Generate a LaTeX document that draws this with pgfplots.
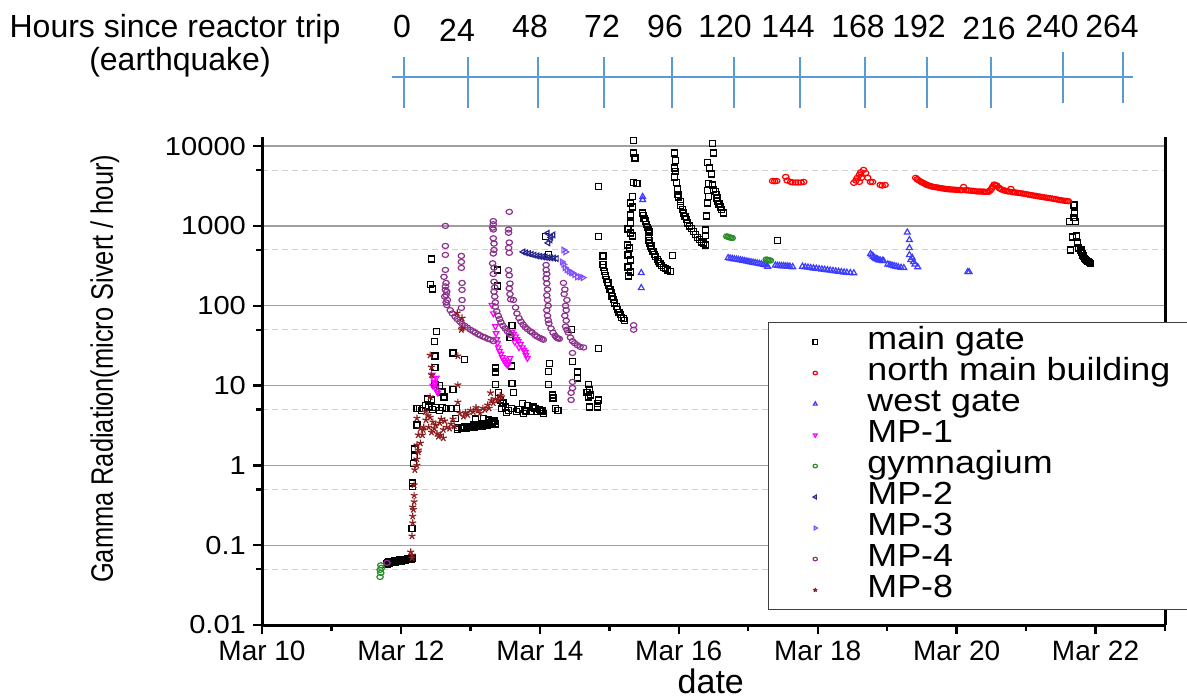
\documentclass[border=0pt]{standalone}
\usepackage{fontspec}
\setmainfont{Liberation Sans}
\newfontfamily\wide[FakeStretch=1.12]{Liberation Sans}
\newfontfamily\narrow[FakeStretch=0.82]{Liberation Sans}
\usepackage{pgfplots}
\pgfplotsset{compat=1.18}
\definecolor{hline}{RGB}{91,155,213}
\definecolor{cnorth}{RGB}{255,0,0}
\definecolor{cwest}{RGB}{60,60,255}
\definecolor{cmpone}{RGB}{255,0,255}
\definecolor{cgym}{RGB}{40,140,40}
\definecolor{cmptwo}{RGB}{40,40,140}
\definecolor{cmpthree}{RGB}{130,80,255}
\definecolor{cmpfour}{RGB}{140,50,140}
\definecolor{cmpeight}{RGB}{140,30,30}
\begin{document}
\begin{tikzpicture}[x=0.5pt,y=0.5pt]
\useasboundingbox (0,0) rectangle (1187,700);
% hours since reactor trip scale
\draw[hline, line width=0.6pt] (392,623) -- (1133,623);
\foreach \x in {404,468,538,604,672,734,800,865,927,991}
  \draw[hline, line width=0.6pt] (\x,643) -- (\x,592);
\foreach \x in {1063,1123}
  \draw[hline, line width=0.6pt] (\x,648) -- (\x,597);
\begin{scope}[every node/.style={font=\fontsize{16}{16}\selectfont, anchor=base, inner sep=0pt}]
\node at (175,662) {Hours since reactor trip};
\node at (180,629) {(earthquake)};
\node at (402,662) {0};
\node at (457,658) {24};
\node at (530,662) {48};
\node at (602,662) {72};
\node at (665,662) {96};
\node at (725,662) {120};
\node at (788,662) {144};
\node at (858,662) {168};
\node at (919,662) {192};
\node at (989,660) {216};
\node at (1052,662) {240};
\node at (1112,662) {264};
\end{scope}

\begin{axis}[
  at={(131pt,37.5pt)}, anchor=south west,
  scale only axis, width=451.5pt, height=244pt,
  ymode=log, xmin=10, xmax=23, ymin=0.01, ymax=13000,
  axis x line*=bottom, axis y line*=box,
  axis line style={line width=1.5pt, black},
  xtick={10,12,...,22},
  xticklabels={Mar 10,Mar 12,Mar 14,Mar 16,Mar 18,Mar 20,Mar 22},
  minor xtick={11,13,...,23},
  ytick={0.01,0.1,1,10,100,1000,10000},
  yticklabels={0.01,0.1,1,10,100,1000,10000},
  minor ytick={0.05,0.5,5,50,500,5000},
  ytick pos=left,
  tick align=outside,
  major tick length=4.5pt, minor tick length=3pt,
  every tick/.style={black, line width=1.2pt},
  ymajorgrids, yminorgrids,
  major grid style={gray!75, line width=0.6pt},
  minor grid style={gray!35, line width=0.5pt, dash pattern=on 3pt off 2pt},
  /pgf/number format/assume math mode=true,
  xticklabel style={font=\fontsize{14}{14}\selectfont},
  yticklabel style={font=\wide\fontsize{13}{13}\selectfont},
  xlabel={date}, ylabel={Gamma Radiation(micro Sivert / hour)},
  every axis x label/.style={at={(0.497,-0.141)}, anchor=base, inner sep=0pt, font=\fontsize{17}{17}\selectfont},
  every axis y label/.style={at={(-0.174,0.525)}, rotate=90, anchor=center, font=\narrow\fontsize{15.5}{15.5}\selectfont},
  legend style={at={(0.560,0.621)}, anchor=north west, draw=black!75, line width=0.6pt,
    inner xsep=22.4pt, inner ysep=2pt, font=\wide\fontsize{16}{16}\selectfont,
    row sep=0pt, nodes={inner sep=0pt, text height=11.5pt, text depth=4pt},
    /tikz/every odd column/.append style={column sep=25pt}},
  legend cell align=left,
  legend image code/.code={\draw[#1, mark size=1.1pt] plot coordinates {(0pt,0pt)};},
  clip=false,
]
% main gate
\addplot[only marks, mark=square, black, mark size=1.5pt, line width=0.6pt] coordinates {
(11.80,0.058) (11.81,0.060) (11.82,0.062) (11.84,0.059) (11.85,0.061) (11.86,0.063) (11.88,0.060) (11.89,0.062)
(11.91,0.064) (11.92,0.061) (11.94,0.063) (11.95,0.062) (11.97,0.064) (11.98,0.066) (12.00,0.063) (12.01,0.065)
(12.03,0.064) (12.05,0.066) (12.07,0.065) (12.09,0.067) (12.11,0.066) (12.13,0.068) (12.15,0.067) (12.16,0.069)
(12.16,0.16) (12.17,0.54) (12.17,0.60) (12.18,1.05) (12.20,1.3) (12.20,1.6) (12.23,3.2) (12.23,5.2) (12.27,5.2)
(12.30,4.9) (12.38,6.8) (12.44,6.6) (12.49,10.2) (12.56,9.9) (12.59,8.3) (12.62,7.2) (12.56,4.9) (12.60,5.3)
(12.66,5.2) (12.72,5.2) (12.80,5.2) (12.75,9.0) (12.78,3.9) (12.82,2.8) (12.81,3.0) (12.35,5.6) (12.40,5.4)
(12.45,5.0) (12.50,5.3)
(12.44,386) (12.43,183) (12.45,162) (12.51,48) (12.48,36) (12.49,23.5) (12.49,17) (12.75,25.6) (12.91,21)
(12.88,2.9) (12.90,3.0) (12.92,3.1) (12.94,2.9) (12.96,3.0) (12.98,3.1) (13.00,3.0) (13.02,3.1) (13.04,3.2)
(13.06,3.0) (13.08,3.1) (13.10,3.2) (13.12,3.1) (13.14,3.2) (13.16,3.3) (13.18,3.1) (13.20,3.2) (13.22,3.3)
(13.24,3.2) (13.26,3.4) (13.28,3.3) (13.30,3.5) (13.32,3.4) (13.34,3.6) (13.36,3.3) (13.07,3.8) (13.19,3.9)
(13.26,3.7) (13.31,3.5)
(13.39,281) (13.39,177) (13.36,16.6) (13.36,14.8) (13.59,17.6) (13.57,40) (13.60,56)
(13.36,10.2) (13.60,10.5) (13.62,8.1) (13.40,8.1) (13.43,6.6) (13.47,6.05) (13.50,5.4) (13.59,5.2) (13.66,4.7)
(13.75,5.9) (13.76,4.5) (13.82,5.6) (13.86,4.7) (13.90,5.4) (13.96,4.7) (14.01,4.7) (14.05,4.5) (13.55,4.9)
(13.70,5.0) (13.80,4.8) (13.93,5.1) (14.00,5.0) (14.03,4.8) (13.45,5.2) (13.52,4.6) (14.12,10.2) (14.18,7.6)
(14.19,7.0) (14.22,5.2) (14.26,4.9)
(14.08,741) (14.12,435) (14.14,19) (14.12,15) (14.45,50) (14.47,20) (14.54,14.8) (14.54,12.4)
(14.68,8.1) (14.70,10.2) (14.71,8.8) (14.73,7.6) (14.70,7.2) (14.84,6.6) (14.83,6.0) (14.72,5.4) (14.83,5.4)
(14.84,3100) (14.84,741) (14.84,29) (14.91,420)
(14.91,325) (14.92,300) (14.93,270) (14.95,240) (14.96,215) (14.98,195) (14.99,180) (15.01,160) (15.03,145)
(15.04,132) (15.06,120) (15.08,108) (15.10,98) (15.12,90) (15.14,83) (15.16,77) (15.18,72) (15.20,69) (15.22,66)
(15.35,11700) (15.35,8200) (15.37,7100) (15.35,3460) (15.40,3360) (15.33,2310) (15.30,1940) (15.33,1730)
(15.30,1370) (15.30,1090) (15.27,917) (15.30,817) (15.33,749) (15.26,578) (15.29,530) (15.27,433) (15.30,375)
(15.27,306) (15.30,265) (15.28,236)
(15.48,1450) (15.49,1350) (15.50,1250) (15.52,1150) (15.53,1050) (15.55,960) (15.56,890) (15.58,840)
(15.56,720) (15.57,660) (15.58,610) (15.60,560) (15.61,520) (15.63,480) (15.65,440) (15.67,410) (15.69,380)
(15.71,355) (15.73,335) (15.75,320) (15.78,300) (15.81,290) (15.84,281) (15.88,270) (15.91,421)
(15.94,8200) (15.95,6600) (15.94,5300) (15.95,4750) (15.94,4100) (15.97,3460) (15.98,2900) (15.99,2500)
(16.00,2300) (16.02,2000) (16.03,1800) (16.05,1600) (16.07,1450) (16.09,1300) (16.11,1190) (16.13,1090)
(16.15,1000) (16.18,920) (16.21,850) (16.24,780) (16.27,720) (16.30,670) (16.33,630) (16.36,600)
(16.38,891) (16.38,750) (16.36,612) (16.38,578)
(16.48,10700) (16.50,8200) (16.41,6160) (16.44,5330) (16.47,4480) (16.43,3360) (16.48,3260) (16.41,2750)
(16.50,2830) (16.43,2310) (16.41,1940) (16.40,1330)
(16.53,2670) (16.54,2450) (16.55,2240) (16.56,2050) (16.58,1880) (16.60,1730) (16.62,1600) (16.64,1450)
(17.42,649)
(21.69,1830) (21.70,1450) (21.69,1260) (21.63,1130) (21.71,1130) (21.73,749) (21.67,728) (21.74,612)
(21.64,500) (21.76,530) (21.79,500) (21.80,470) (21.81,450) (21.82,430) (21.83,410) (21.84,395) (21.86,380)
(21.87,365) (21.89,355) (21.91,345) (21.93,335)
};
\addlegendentry{main gate}
% north main building
\addplot[only marks, mark=o, cnorth, mark size=1.6pt, line width=0.6pt, mark options={yscale=0.8}] coordinates {
(17.35,3660) (17.38,3620) (17.41,3660) (17.54,4110) (17.56,3700) (17.61,3560) (17.64,3500) (17.68,3500)
(17.72,3500) (17.76,3500) (17.80,3560)
(18.52,3460) (18.57,4000) (18.60,4360) (18.62,4700) (18.66,5030) (18.69,4600) (18.72,4000) (18.76,3560)
(18.79,3560) (18.60,3560) (18.63,4000) (18.55,3700)
(18.90,3260) (18.93,3200) (18.97,3260)
(19.41,4000) (19.43,3850) (19.45,3750) (19.48,3600) (19.50,3520) (19.52,3450) (19.54,3380) (19.56,3300)
(19.58,3250) (19.60,3200) (19.63,3150) (19.65,3100) (19.68,3070) (19.70,3050) (19.73,3020) (19.75,3000)
(19.78,2970) (19.80,2950) (19.83,2920) (19.85,2900) (19.88,2880) (19.90,2870) (19.93,2860) (19.96,2850)
(19.99,2830) (20.02,2820) (20.05,2810) (20.08,2800) (20.10,3080) (20.13,2800) (20.16,2790) (20.18,2780)
(20.21,2760) (20.24,2750) (20.27,2720) (20.30,2700) (20.33,2700) (20.35,2700) (20.38,2690) (20.40,2680)
(20.43,2670) (20.46,2670) (20.48,2780) (20.50,2900) (20.52,3100) (20.54,3300) (20.56,3250) (20.58,3200)
(20.61,3000) (20.63,2900) (20.65,2850) (20.68,2800) (20.70,2750) (20.73,2720) (20.75,2700) (20.78,2910)
(20.80,2650) (20.83,2640) (20.85,2620) (20.88,2600) (20.90,2580) (20.93,2560) (20.96,2540) (20.99,2510)
(21.02,2480) (21.05,2450) (21.08,2430) (21.11,2400) (21.14,2380) (21.17,2350) (21.20,2330) (21.23,2300)
(21.26,2280) (21.29,2260) (21.32,2240) (21.35,2220) (21.38,2200) (21.41,2170) (21.44,2150) (21.47,2120)
(21.50,2100) (21.53,2080) (21.56,2060) (21.59,2050) (21.61,2040)
};
\addlegendentry{north main building}
% west gate
\addplot[only marks, mark=triangle, cwest, mark size=1.7pt, line width=0.6pt] coordinates {
(15.48,2310) (15.48,2120) (15.46,258) (15.46,167)
(16.71,397) (16.74,392) (16.77,388) (16.80,384) (16.83,380) (16.86,376) (16.89,372) (16.92,368) (16.95,364)
(16.98,360) (17.01,356) (17.04,352) (17.07,348) (17.10,344) (17.13,340) (17.16,336) (17.19,332) (17.22,328)
(17.25,324) (17.28,310)
(17.39,320) (17.42,318) (17.45,316) (17.48,315) (17.51,315) (17.54,313) (17.57,312) (17.60,310) (17.64,306)
(17.78,310) (17.82,305) (17.86,302) (17.90,298) (17.94,295) (17.98,292) (18.02,289) (18.06,286) (18.10,283)
(18.14,280) (18.18,277) (18.22,274) (18.26,271) (18.30,268) (18.34,265) (18.38,262) (18.42,260) (18.47,258)
(18.52,256)
(18.76,446) (18.78,430) (18.80,412) (18.82,398) (18.84,388) (18.86,380) (18.88,374) (18.90,370) (18.93,366)
(18.95,364)
(19.01,330) (19.04,325) (19.07,320) (19.10,315) (19.13,310) (19.16,305) (19.20,300) (19.24,298)
(19.29,830) (19.32,668) (19.32,530) (19.32,433) (19.34,375) (19.36,400) (19.38,354) (19.40,330) (19.44,306)
(20.16,265) (20.18,265)
};
\addlegendentry{west gate}
% MP-1
\addplot[only marks, mark=triangle, cmpone, mark size=1.6pt, line width=0.6pt, mark options={rotate=180}] coordinates {
(12.45,13.6) (12.47,12) (12.49,10.5) (12.50,9.3) (12.52,8.5) (12.48,11) (12.51,12.5) (12.46,9.9) (12.53,8.1)
(13.31,102) (13.33,80) (13.36,55) (13.37,45) (13.38,38) (13.39,34) (13.40,30) (13.42,27) (13.44,25)
(13.46,22.5) (13.48,21) (13.50,19.5) (13.52,18.5) (13.54,18) (13.57,22) (13.55,20)
(13.60,47) (13.62,44) (13.64,35) (13.65,41) (13.67,38) (13.69,36) (13.70,30) (13.72,33) (13.75,30)
(13.77,28) (13.79,26) (13.80,24) (13.82,22)
};
\addlegendentry{MP-1}
% gymnagium
\addplot[only marks, mark=o, cgym, mark size=1.6pt, line width=0.6pt, mark options={yscale=0.8}] coordinates {
(11.71,0.056) (11.72,0.052) (11.70,0.049) (11.71,0.045) (11.70,0.040)
(16.69,740) (16.71,730) (16.73,720) (16.75,712) (16.77,705)
(17.26,380) (17.28,375) (17.30,372) (17.32,368)
};
\addlegendentry{gymnagium}
% MP-2
\addplot[only marks, mark=triangle, cmptwo, mark size=1.6pt, line width=0.6pt, mark options={rotate=90}] coordinates {
(13.76,472) (13.80,460) (13.84,450) (13.88,440) (13.92,430) (13.96,421) (14.00,415) (14.04,410) (14.08,405)
(14.12,400) (14.16,398) (14.20,395) (14.24,390)
(14.11,810) (14.15,668) (14.12,612) (14.19,771) (14.16,720)
};
\addlegendentry{MP-2}
% MP-3
\addplot[only marks, mark=triangle, cmpthree, mark size=1.6pt, line width=0.6pt, mark options={rotate=-90}] coordinates {
(14.34,500) (14.37,472) (14.32,354) (14.34,330) (14.36,300) (14.39,281) (14.42,270) (14.45,262) (14.47,258)
(14.50,245) (14.54,230) (14.58,230) (14.62,225)
};
\addlegendentry{MP-3}
% MP-4
\addplot[only marks, mark=o, cmpfour, mark size=1.6pt, line width=0.6pt, mark options={yscale=0.8}] coordinates {
(11.80,0.060)
(12.64,1000) (12.64,561) (12.64,433) (12.64,281) (12.62,230) (12.65,193) (12.64,175) (12.64,158) (12.66,150)
(12.65,136) (12.63,130) (12.67,118) (12.65,110) (12.66,102)
(12.87,421) (12.87,354) (12.87,298) (12.88,193) (12.88,158) (12.88,118) (12.87,94)
(12.71,88) (12.74,80) (12.78,73) (12.81,68) (12.85,63) (12.88,59) (12.92,56) (12.96,53) (13.00,50) (13.04,48)
(13.07,46) (13.11,44) (13.14,42.5) (13.18,41) (13.21,40) (13.25,38.5) (13.29,37.5) (13.33,36)
(13.33,1150) (13.33,1050) (13.32,950) (13.33,900) (13.33,700) (13.34,600) (13.34,500) (13.33,450) (13.32,340)
(13.34,300) (13.33,250) (13.34,200) (13.35,170) (13.34,150) (13.35,130) (13.36,110)
(13.36,97) (13.38,85) (13.40,75) (13.42,68) (13.44,62) (13.47,56) (13.50,52) (13.53,48) (13.56,45) (13.58,43)
(13.56,1500) (13.55,900) (13.55,820) (13.56,620) (13.55,530) (13.56,460) (13.55,280) (13.56,240) (13.57,190)
(13.56,165) (13.57,140) (13.58,120)
(13.62,118) (13.65,95) (13.67,80) (13.70,70) (13.73,63) (13.76,58) (13.79,54) (13.82,51) (13.86,48) (13.89,46)
(13.93,43) (13.96,41) (14.00,39.5) (14.03,38.5) (14.05,37.5)
(14.09,324) (14.09,281) (14.10,250) (14.09,220) (14.10,190) (14.11,160) (14.10,135) (14.11,118) (14.12,100)
(14.10,88) (14.11,75) (14.12,66)
(14.13,60) (14.16,52) (14.19,46) (14.22,42) (14.24,40) (14.26,39) (14.28,38.5)
(14.34,193) (14.36,160) (14.35,140) (14.39,118) (14.37,100) (14.38,88) (14.36,75) (14.38,65) (14.37,55) (14.39,50)
(14.41,46) (14.44,40) (14.47,36) (14.50,34) (14.54,32) (14.58,30.5) (14.63,30) (14.47,25.6)
(14.47,11.1) (14.47,9.3) (14.45,8.1) (14.45,6.6)
(15.35,57) (15.35,50)
};
\addlegendentry{MP-4}
% MP-8
\addplot[only marks, mark=star, cmpeight, mark size=1.8pt, line width=0.6pt] coordinates {
(12.14,0.082) (12.16,0.075) (12.16,0.069) (12.16,0.13) (12.17,0.19) (12.17,0.23) (12.17,0.30) (12.18,0.28)
(12.19,0.42) (12.19,0.35) (12.19,0.57) (12.20,0.88) (12.23,1.0) (12.23,1.2) (12.25,1.47) (12.23,1.8)
(12.25,2.4) (12.28,2.9) (12.23,3.9) (12.25,1.56) (12.28,1.9)
(12.35,4.7) (12.36,3.7) (12.42,4.0) (12.46,3.5) (12.50,3.2) (12.56,3.4) (12.61,2.8) (12.54,2.3) (12.61,2.2)
(12.32,2.8) (12.33,3.0) (12.31,2.4) (12.39,4.2) (12.40,3.0) (12.44,2.6) (12.48,2.9) (12.52,2.5) (12.57,2.4)
(12.58,3.8) (12.63,3.6) (12.66,3.0) (12.70,2.9) (12.72,3.3) (12.75,3.8) (12.77,3.1)
(12.82,6.2) (12.85,4.5) (12.90,4.1) (12.93,4.6) (12.96,4.3) (13.00,4.9) (13.04,4.7) (13.08,5.3) (13.11,4.9)
(13.14,4.5) (13.18,5.2) (13.21,5.0) (13.25,5.7) (13.27,5.2) (13.29,8.1) (13.30,6.5) (13.33,6.05) (13.36,6.8)
(13.39,6.6) (13.40,6.6) (13.43,7.5) (13.45,7.2) (12.82,10.2) (12.42,7.2)
(12.42,24) (12.44,17) (12.44,13.6) (12.81,81) (12.88,70) (12.87,50) (12.82,23.5) (12.88,52)
};
\addlegendentry{MP-8}
\end{axis}
\end{tikzpicture}
\end{document}
